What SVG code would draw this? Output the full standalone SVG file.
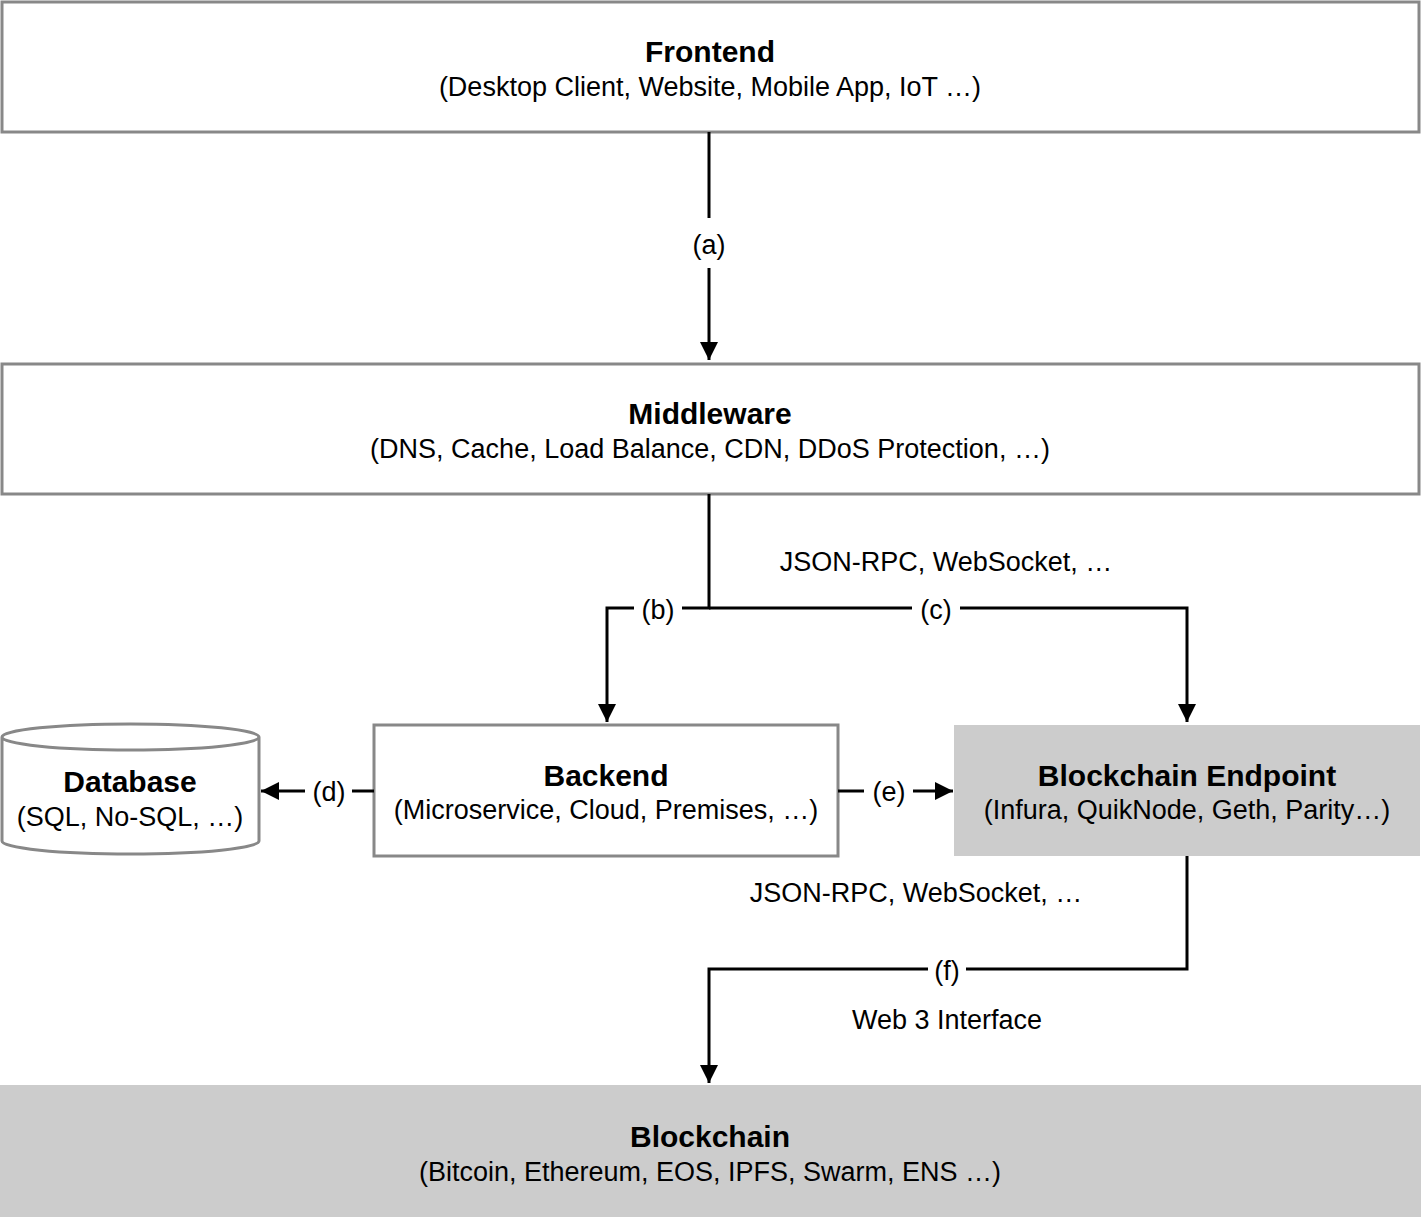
<svg xmlns="http://www.w3.org/2000/svg" width="1421" height="1217" viewBox="0 0 1421 1217">
<defs>
<style>
.box{fill:#fff;stroke:#888;stroke-width:3}
.gray{fill:#ccc;stroke:none}
.t{font-family:"Liberation Sans",Arial,sans-serif;font-weight:bold;font-size:30px;text-anchor:middle;fill:#000}
.s{font-family:"Liberation Sans",Arial,sans-serif;font-size:27px;text-anchor:middle;fill:#000}
.l{font-family:"Liberation Sans",Arial,sans-serif;font-size:27px;text-anchor:middle;fill:#000}
.c{fill:none;stroke:#000;stroke-width:3}
</style>
<marker id="ah" viewBox="0 0 10 10" refX="10" refY="5" markerWidth="7" markerHeight="6" markerUnits="strokeWidth" orient="auto">
<path d="M0,0 L10,5 L0,10 z" fill="#000"/>
</marker>
</defs>
<rect width="1421" height="1217" fill="#fff"/>
<g id="frontend">
<rect class="box" x="2" y="2" width="1417" height="130"/>
<text class="t" x="710" y="62">Frontend</text>
<text class="s" x="710" y="96">(Desktop Client, Website, Mobile App, IoT …)</text>
</g>
<g id="middleware">
<rect class="box" x="2" y="364" width="1417" height="130"/>
<text class="t" x="710" y="424">Middleware</text>
<text class="s" x="710" y="458">(DNS, Cache, Load Balance, CDN, DDoS Protection, …)</text>
</g>
<g id="database">
<path class="box" d="M2,737 L2,841 A128.5,13 0 0 0 259,841 L259,737 A128.5,13 0 0 0 2,737 A128.5,13 0 0 0 259,737"/>
<text class="t" x="130" y="792">Database</text>
<text class="s" x="130" y="826">(SQL, No-SQL, …)</text>
</g>
<g id="backend">
<rect class="box" x="374" y="725" width="464" height="131"/>
<text class="t" x="606" y="786">Backend</text>
<text class="s" x="606" y="819">(Microservice, Cloud, Premises, …)</text>
</g>
<g id="endpoint">
<rect class="gray" x="954" y="725" width="466" height="131"/>
<text class="t" x="1187" y="786">Blockchain Endpoint</text>
<text class="s" x="1187" y="819">(Infura, QuikNode, Geth, Parity…)</text>
</g>
<g id="blockchain">
<rect class="gray" x="0" y="1085" width="1421" height="132"/>
<text class="t" x="710" y="1147">Blockchain</text>
<text class="s" x="710" y="1181">(Bitcoin, Ethereum, EOS, IPFS, Swarm, ENS …)</text>
</g>
<g id="connectors">
<path class="c" d="M709,132 L709,218"/>
<path class="c" d="M709,268 L709,360" marker-end="url(#ah)"/>
<text class="l" x="709" y="254">(a)</text>
<path class="c" d="M709,494 L709,608 L682,608"/>
<path class="c" d="M634,608 L607,608 L607,722" marker-end="url(#ah)"/>
<text class="l" x="658" y="619">(b)</text>
<path class="c" d="M709,608 L912,608"/>
<path class="c" d="M960,608 L1187,608 L1187,722" marker-end="url(#ah)"/>
<text class="l" x="936" y="619">(c)</text>
<text class="l" x="946" y="571">JSON-RPC, WebSocket, …</text>
<path class="c" d="M374,791 L352,791"/>
<path class="c" d="M305,791 L261,791" marker-end="url(#ah)"/>
<text class="l" x="329" y="801">(d)</text>
<path class="c" d="M838,791 L864,791"/>
<path class="c" d="M913,791 L953,791" marker-end="url(#ah)"/>
<text class="l" x="889" y="801">(e)</text>
<text class="l" x="916" y="902">JSON-RPC, WebSocket, …</text>
<path class="c" d="M1187,856 L1187,969 L966,969"/>
<path class="c" d="M928,969 L709,969 L709,1083" marker-end="url(#ah)"/>
<text class="l" x="947" y="980">(f)</text>
<text class="l" x="947" y="1029">Web 3 Interface</text>
</g>
</svg>
